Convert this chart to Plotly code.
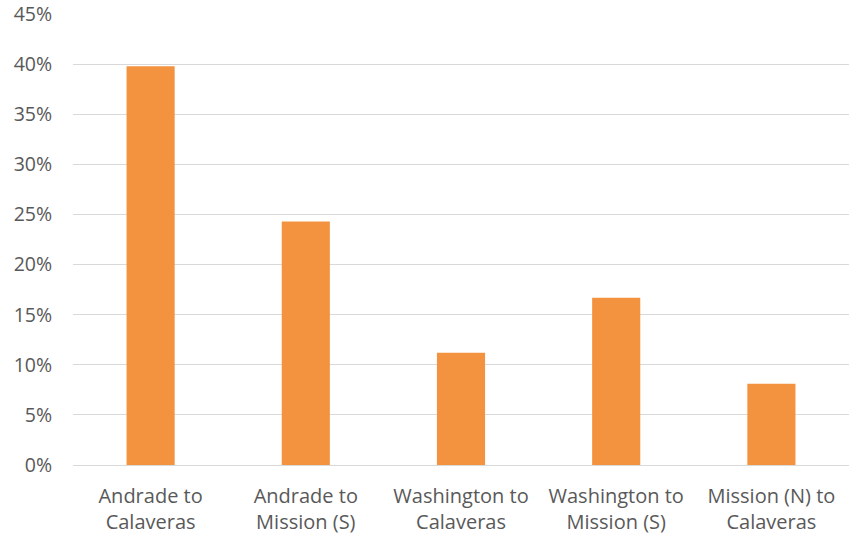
import plotly.graph_objects as go

categories = ["Andrade to<br>Calaveras", "Andrade to<br>Mission (S)", "Washington to<br>Calaveras",
              "Washington to<br>Mission (S)", "Mission (N) to<br>Calaveras"]
values = [39.8, 24.3, 11.2, 16.7, 8.1]  # percent
y_ticks = [0, 5, 10, 15, 20, 25, 30, 35, 40, 45]
y_tick_labels = ["0%", "5%", "10%", "15%", "20%", "25%", "30%", "35%", "40%", "45%"]

fig = go.Figure(go.Bar(x=categories, y=values, marker=dict(color="#F39340", line=dict(width=0))))

fig.update_layout(
    width=849, height=534,
    margin=dict(l=73, r=0, t=14, b=69),
    plot_bgcolor="white", paper_bgcolor="white",
    bargap=0.69,
    font=dict(family="Open Sans", size=19, color="#595959"),
    showlegend=False,
)
fig.update_yaxes(range=[0, 45.02], tickvals=y_ticks, ticktext=y_tick_labels,
                 tickfont=dict(size=19.5),
                 showgrid=True, gridcolor="#D9D9D9", gridwidth=1, zeroline=False,
                 showline=False, ticks="outside", ticklen=0, ticklabelstandoff=16)
fig.update_xaxes(showline=True, linecolor="#D9D9D9", linewidth=1, ticks="outside", ticklen=0,
                 tickfont=dict(size=20), ticklabelstandoff=13)

fig.write_html("out.html")
